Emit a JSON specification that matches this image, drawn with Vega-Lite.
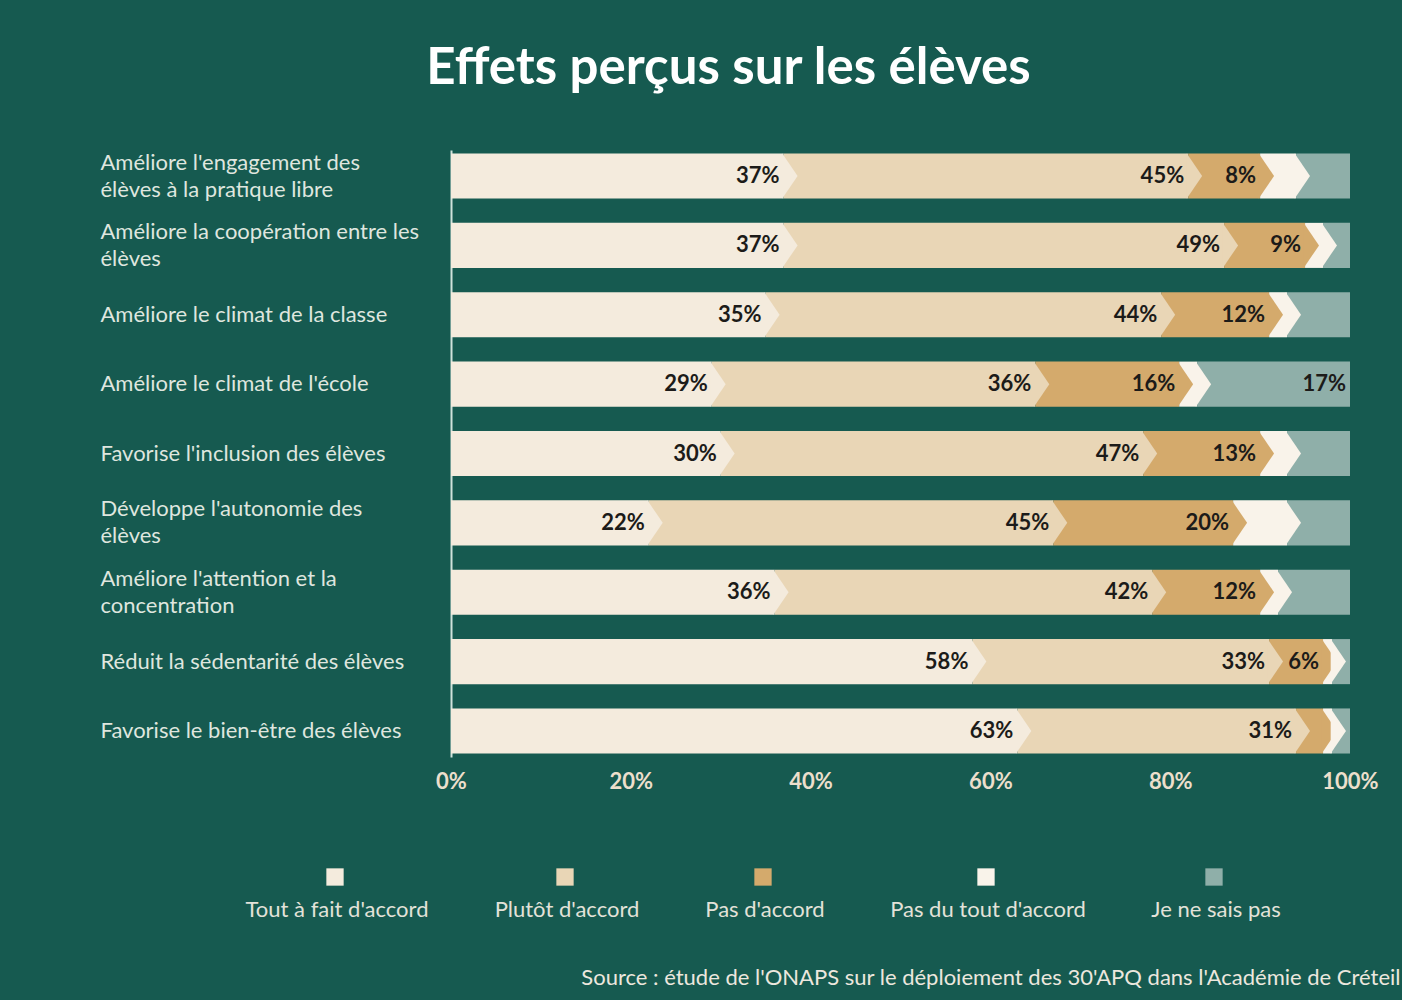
{
  "$schema": "https://vega.github.io/schema/vega-lite/v6.json",
  "autosize": "none",
  "width": 899,
  "height": 607,
  "padding": {"left": 451, "top": 150, "right": 52, "bottom": 243},
  "background": "#165a50",
  "title": {
    "text": "Effets perçus sur les élèves",
    "font": "Lato",
    "fontSize": 51,
    "fontWeight": 700,
    "color": "#ffffff",
    "anchor": "middle",
    "dx": -172,
    "offset": 55
  },
  "data": {
    "values": [
      {"q": "Améliore l'engagement des\nélèves à la pratique libre", "cat": "Tout à fait d'accord", "k": 1, "value": 37},
      {"q": "Améliore l'engagement des\nélèves à la pratique libre", "cat": "Plutôt d'accord", "k": 2, "value": 45},
      {"q": "Améliore l'engagement des\nélèves à la pratique libre", "cat": "Pas d'accord", "k": 3, "value": 8},
      {"q": "Améliore l'engagement des\nélèves à la pratique libre", "cat": "Pas du tout d'accord", "k": 4, "value": 4},
      {"q": "Améliore l'engagement des\nélèves à la pratique libre", "cat": "Je ne sais pas", "k": 5, "value": 6},
      {"q": "Améliore la coopération entre les\nélèves", "cat": "Tout à fait d'accord", "k": 1, "value": 37},
      {"q": "Améliore la coopération entre les\nélèves", "cat": "Plutôt d'accord", "k": 2, "value": 49},
      {"q": "Améliore la coopération entre les\nélèves", "cat": "Pas d'accord", "k": 3, "value": 9},
      {"q": "Améliore la coopération entre les\nélèves", "cat": "Pas du tout d'accord", "k": 4, "value": 2},
      {"q": "Améliore la coopération entre les\nélèves", "cat": "Je ne sais pas", "k": 5, "value": 3},
      {"q": "Améliore le climat de la classe", "cat": "Tout à fait d'accord", "k": 1, "value": 35},
      {"q": "Améliore le climat de la classe", "cat": "Plutôt d'accord", "k": 2, "value": 44},
      {"q": "Améliore le climat de la classe", "cat": "Pas d'accord", "k": 3, "value": 12},
      {"q": "Améliore le climat de la classe", "cat": "Pas du tout d'accord", "k": 4, "value": 2},
      {"q": "Améliore le climat de la classe", "cat": "Je ne sais pas", "k": 5, "value": 7},
      {"q": "Améliore le climat de l'école", "cat": "Tout à fait d'accord", "k": 1, "value": 29},
      {"q": "Améliore le climat de l'école", "cat": "Plutôt d'accord", "k": 2, "value": 36},
      {"q": "Améliore le climat de l'école", "cat": "Pas d'accord", "k": 3, "value": 16},
      {"q": "Améliore le climat de l'école", "cat": "Pas du tout d'accord", "k": 4, "value": 2},
      {"q": "Améliore le climat de l'école", "cat": "Je ne sais pas", "k": 5, "value": 17},
      {"q": "Favorise l'inclusion des élèves", "cat": "Tout à fait d'accord", "k": 1, "value": 30},
      {"q": "Favorise l'inclusion des élèves", "cat": "Plutôt d'accord", "k": 2, "value": 47},
      {"q": "Favorise l'inclusion des élèves", "cat": "Pas d'accord", "k": 3, "value": 13},
      {"q": "Favorise l'inclusion des élèves", "cat": "Pas du tout d'accord", "k": 4, "value": 3},
      {"q": "Favorise l'inclusion des élèves", "cat": "Je ne sais pas", "k": 5, "value": 7},
      {"q": "Développe l'autonomie des\nélèves", "cat": "Tout à fait d'accord", "k": 1, "value": 22},
      {"q": "Développe l'autonomie des\nélèves", "cat": "Plutôt d'accord", "k": 2, "value": 45},
      {"q": "Développe l'autonomie des\nélèves", "cat": "Pas d'accord", "k": 3, "value": 20},
      {"q": "Développe l'autonomie des\nélèves", "cat": "Pas du tout d'accord", "k": 4, "value": 6},
      {"q": "Développe l'autonomie des\nélèves", "cat": "Je ne sais pas", "k": 5, "value": 7},
      {"q": "Améliore l'attention et la\nconcentration", "cat": "Tout à fait d'accord", "k": 1, "value": 36},
      {"q": "Améliore l'attention et la\nconcentration", "cat": "Plutôt d'accord", "k": 2, "value": 42},
      {"q": "Améliore l'attention et la\nconcentration", "cat": "Pas d'accord", "k": 3, "value": 12},
      {"q": "Améliore l'attention et la\nconcentration", "cat": "Pas du tout d'accord", "k": 4, "value": 2},
      {"q": "Améliore l'attention et la\nconcentration", "cat": "Je ne sais pas", "k": 5, "value": 8},
      {"q": "Réduit la sédentarité des élèves", "cat": "Tout à fait d'accord", "k": 1, "value": 58},
      {"q": "Réduit la sédentarité des élèves", "cat": "Plutôt d'accord", "k": 2, "value": 33},
      {"q": "Réduit la sédentarité des élèves", "cat": "Pas d'accord", "k": 3, "value": 6},
      {"q": "Réduit la sédentarité des élèves", "cat": "Pas du tout d'accord", "k": 4, "value": 1},
      {"q": "Réduit la sédentarité des élèves", "cat": "Je ne sais pas", "k": 5, "value": 2},
      {"q": "Favorise le bien-être des élèves", "cat": "Tout à fait d'accord", "k": 1, "value": 63},
      {"q": "Favorise le bien-être des élèves", "cat": "Plutôt d'accord", "k": 2, "value": 31},
      {"q": "Favorise le bien-être des élèves", "cat": "Pas d'accord", "k": 3, "value": 3},
      {"q": "Favorise le bien-être des élèves", "cat": "Pas du tout d'accord", "k": 4, "value": 1},
      {"q": "Favorise le bien-être des élèves", "cat": "Je ne sais pas", "k": 5, "value": 2}
    ]
  },
  "transform": [
    {"stack": "value", "groupby": ["q"], "sort": [{"field": "k", "order": "ascending"}], "as": ["x0", "x1"]},
    {"calculate": "datum.value + '%'", "as": "lab"}
  ],
  "encoding": {
    "y": {
      "field": "q",
      "type": "nominal",
      "sort": null,
      "title": null,
      "scale": {"paddingInner": 0.35, "paddingOuter": 0.05},
      "axis": {
        "labelAlign": "left",
        "labelPadding": 351,
        "ticks": false,
        "tickSize": 0,
        "domain": true,
        "domainColor": "#cfe2db",
        "domainWidth": 2,
        "labelFont": "Lato",
        "labelFontSize": 22,
        "labelColor": "#dfe6df",
        "labelLineHeight": 27,
        "labelLimit": 400,
        "labelExpr": "split(datum.label, '\\n')",
        "encoding": {"labels": {"dy": {"value": {"expr": "indexof(datum.value, '\\n') >= 0 ? -13.5 : 0"}}}}
      }
    }
  },
  "layer": [
    {
      "mark": {"type": "bar", "strokeWidth": 0},
      "encoding": {
        "x": {
          "field": "x0",
          "type": "quantitative",
          "scale": {"domain": [0, 100], "nice": false},
          "axis": {
            "values": [0, 20, 40, 60, 80, 100],
            "labelExpr": "datum.value + '%'",
            "labelFlush": false,
            "grid": false,
            "domain": false,
            "ticks": false,
            "tickSize": 0,
            "labelPadding": 14,
            "labelFont": "Lato",
            "labelFontSize": 22,
            "labelFontWeight": "bold",
            "labelColor": "#ecdfcc",
            "title": "Source : étude de l'ONAPS sur le déploiement des 30'APQ dans l'Académie de Créteil",
            "titleFont": "Lato",
            "titleFontSize": 22,
            "titleFontWeight": "normal",
            "titleColor": "#ece7de",
            "titleAlign": "right",
            "titleBaseline": "middle",
            "titleX": 949,
            "titleY": 220
          }
        },
        "x2": {"field": "x1"},
        "color": {
          "field": "cat",
          "type": "nominal",
          "scale": {
            "domain": ["Tout à fait d'accord", "Plutôt d'accord", "Pas d'accord", "Pas du tout d'accord", "Je ne sais pas"],
            "range": ["#f4ebdd", "#e9d6b6", "#d4aa6c", "#f9f3ea", "#8fafa9"]
          },
          "legend": {
            "title": null,
            "orient": "none",
            "legendX": -127,
            "legendY": 716,
            "direction": "horizontal",
            "columns": 5,
            "symbolType": "square",
            "symbolSize": 300,
            "symbolStrokeWidth": 0,
            "labelAlign": "center",
            "labelOffset": -9,
            "labelFont": "Lato",
            "labelFontSize": 22,
            "labelColor": "#e3e2d9",
            "labelLimit": 300,
            "columnPadding": 65,
            "encoding": {"labels": {"dy": {"value": 33}}}
          }
        }
      }
    },
    {
      "transform": [{"filter": "datum.k < 5"}],
      "mark": {"type": "point", "shape": "M-0.06,-1L0.62,0L-0.06,1Z", "filled": true, "size": 2025, "opacity": 1, "strokeWidth": 0},
      "encoding": {
        "x": {"field": "x1", "type": "quantitative"},
        "color": {"field": "cat", "type": "nominal"}
      }
    },
    {
      "transform": [{"filter": "(datum.k <= 3 && datum.value >= 5) || datum.value >= 15"}],
      "mark": {"type": "text", "align": "right", "baseline": "middle", "dx": -4, "font": "Lato", "fontSize": 22, "fontWeight": "bold", "color": "#1c1b19"},
      "encoding": {
        "x": {"field": "x1", "type": "quantitative"},
        "text": {"field": "lab"}
      }
    }
  ],
  "config": {"view": {"stroke": null}}
}
